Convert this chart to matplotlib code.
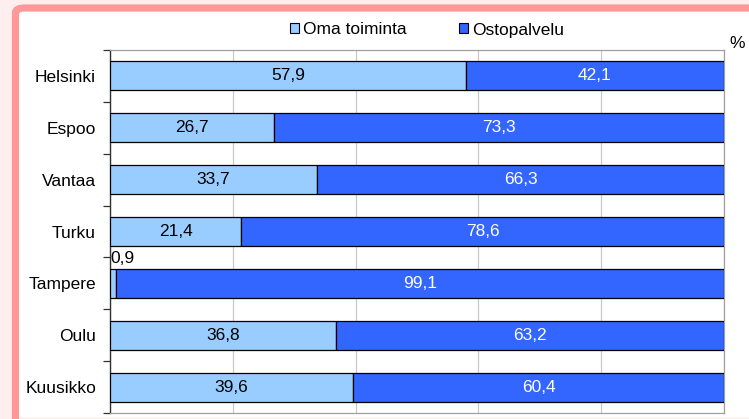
import matplotlib.pyplot as plt
from matplotlib.patches import Patch, FancyBboxPatch

plt.rcParams['font.family'] = ['Liberation Sans', 'DejaVu Sans']

# data
cities = ["Helsinki", "Espoo", "Vantaa", "Turku", "Tampere", "Oulu", "Kuusikko"]
oma = [57.9, 26.7, 33.7, 21.4, 0.9, 36.8, 39.6]
osto = [42.1, 73.3, 66.3, 78.6, 99.1, 63.2, 60.4]

light = "#99CCFF"
dark = "#3366FF"

W, H = 749, 419
fig = plt.figure(figsize=(W / 100, H / 100), dpi=100)
fig.patch.set_facecolor("#FFEEEE")

# pink frame with white inside
frame = FancyBboxPatch((15.5 / W, -20 / H), 760 / W, 431 / H,
                       boxstyle="round,pad=0,rounding_size=0.012",
                       transform=fig.transFigure, facecolor="white",
                       edgecolor="#FF9999", linewidth=5.2, zorder=-5)
fig.patches.append(frame)
# thin light strip at the very bottom
fig.patches.append(plt.Rectangle((19 / W, 0), 730 / W, 2 / H, transform=fig.transFigure,
                                 facecolor="#FFF0F0", edgecolor="none", zorder=-4))

ax = fig.add_axes([110 / W, (H - 413) / H, 614 / W, 363 / H])
ax.set_zorder(2)
ax.set_facecolor("white")

y = range(len(cities))
ax.barh(y, oma, height=0.56, color=light, edgecolor="black", linewidth=0.9, zorder=3)
ax.barh(y, osto, left=oma, height=0.56, color=dark, edgecolor="black", linewidth=0.9, zorder=3)

fs = 12.5
for i in y:
    if oma[i] > 5:
        ax.text(oma[i] / 2, i, f"{oma[i]:.1f}".replace(".", ","), ha="center", va="center",
                fontsize=fs, color="black", zorder=4)
    else:
        ax.annotate(f"{oma[i]:.1f}".replace(".", ","), (0, i), xytext=(0, 18),
                    textcoords="offset points", ha="left", va="center", fontsize=fs,
                    color="black", zorder=4, annotation_clip=False)
    ax.text(oma[i] + osto[i] / 2, i, f"{osto[i]:.1f}".replace(".", ","), ha="center",
            va="center", fontsize=fs, color="white", zorder=4)

ax.set_xlim(0, 100)
ax.set_ylim(len(cities) - 0.5, -0.5)
ax.set_xticks([0, 20, 40, 60, 80, 100])
ax.set_xticklabels([])
ax.tick_params(axis="x", length=0)
ax.xaxis.grid(True, color="#C8C8C8", linewidth=0.9, zorder=0)

ax.set_yticks(list(y))
ax.set_yticklabels(cities, fontsize=fs)
ax.set_yticks([i - 0.5 for i in range(len(cities) + 1)], minor=True)
ax.tick_params(axis="y", which="major", length=0, pad=10)
ax.tick_params(axis="y", which="minor", length=5, width=0.9, color="#333333")

for s in ["top", "right", "bottom"]:
    ax.spines[s].set_color("#A0A0A0")
    ax.spines[s].set_linewidth(0.9)
ax.spines["left"].set_color("#333333")
ax.spines["left"].set_linewidth(1.0)

handles = [Patch(facecolor=light, edgecolor="black", linewidth=0.8, label="Oma toiminta"),
           Patch(facecolor=dark, edgecolor="black", linewidth=0.8, label="Ostopalvelu")]
fig.legend(handles=handles, loc="center", bbox_to_anchor=(427 / W, 1 - 30 / H), ncol=2,
           frameon=False, fontsize=fs, handlelength=0.5, handleheight=0.5,
           handletextpad=0.25, columnspacing=3.0, borderpad=0)

fig.text(737 / W, 1 - 44 / H, "%", ha="center", va="center", fontsize=fs)

fig.savefig("out.png", dpi=100, facecolor=fig.get_facecolor())
